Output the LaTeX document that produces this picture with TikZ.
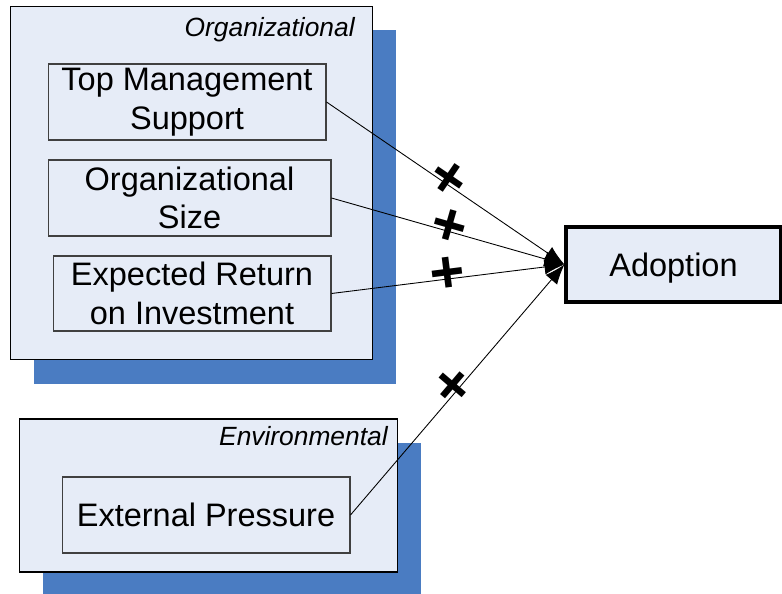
\documentclass[tikz,border=0pt]{standalone}
\usepackage{fontspec}
\setmainfont{Liberation Sans}
\usetikzlibrary{arrows.meta,shadows}
\definecolor{boxfill}{RGB}{230,236,247}
\definecolor{shadowblue}{RGB}{74,124,194}
\begin{document}
\begin{tikzpicture}[x=0.02cm,y=-0.02cm,
  group/.style={draw=black,fill=boxfill,inner sep=0pt,line width=0.6pt,
    drop shadow={shadow xshift=0.47cm,shadow yshift=-0.48cm,fill=shadowblue,opacity=1}},
  grouptitle/.style={anchor=base east,inner sep=0pt,font=\fontsize{15}{18}\selectfont\itshape},
  factor/.style={draw=black!75,fill=boxfill,align=center,inner sep=0pt,line width=0.6pt,
    minimum height=1.52cm,font=\fontsize{18.5}{22}\selectfont},
  link/.style={line width=0.5pt,-{Latex[length=0.4cm,width=0.3cm]}},
  sign/.style={midway,sloped,yshift=0.08cm,inner sep=0pt,font=\fontsize{34}{34}\selectfont\bfseries}]
\useasboundingbox (0,0) rectangle (782,594);
% the two groups with their shadows
\node[group,minimum width=7.26cm,minimum height=7.08cm] (org) at (191.5,183) {};
\node[grouptitle] (orgtitle) at (355,37) {Organizational};
\node[group,minimum width=7.58cm,minimum height=3.06cm] (env) at (208.5,495.5) {};
\node[grouptitle] (envtitle) at (388,446) {Environmental};
% the factors
\node[factor,minimum width=5.56cm] (top) at (187,102) {Top Management\\Support};
\node[factor,minimum width=5.66cm] (size) at (189.5,198) {Organizational\\Size};
\node[factor,minimum width=5.56cm,minimum height=1.5cm] (roi) at (192,293.5) {Expected Return\\on Investment};
\node[factor,minimum width=5.76cm] (ext) at (206,515) {External Pressure};
\node[factor,draw=black,line width=1.8pt,minimum width=4.3cm,minimum height=1.5cm,text depth=0pt] (adopt) at (673.5,264.5) {Adoption};
% the links into adoption
\draw[link] (top.east) -- node[sign] (ptop) {+} (adopt.west);
\draw[link] (size.east) -- node[sign] (psize) {+} (adopt.west);
\draw[link] (roi.east) -- node[sign] (proi) {+} (adopt.west);
\draw[link] (ext.east) -- node[sign] (pext) {+} (adopt.west);
\end{tikzpicture}
\end{document}
